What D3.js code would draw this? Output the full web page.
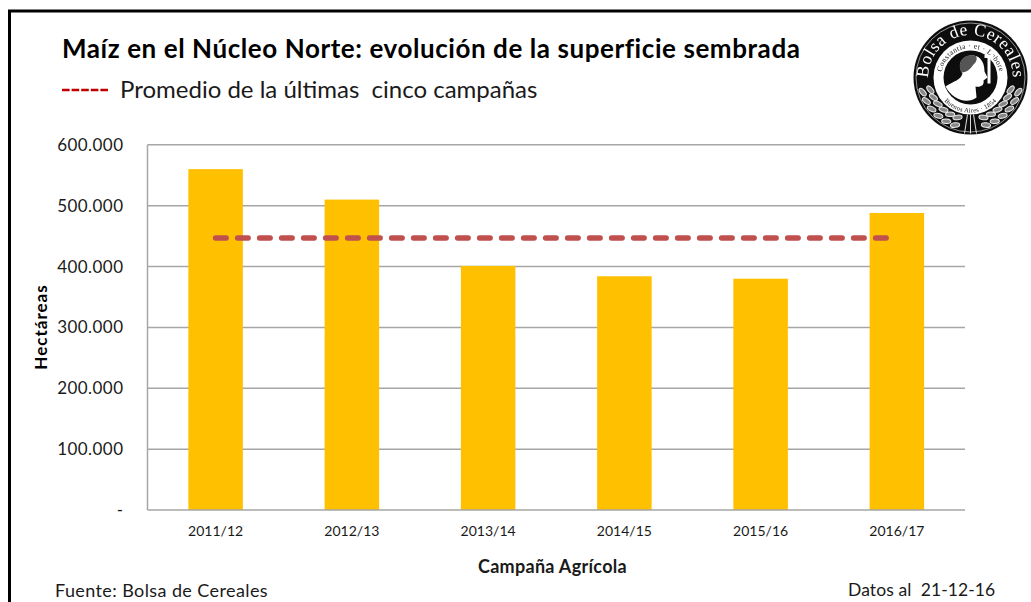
<!DOCTYPE html>
<html><head><meta charset="utf-8">
<script src="https://cdnjs.cloudflare.com/ajax/libs/d3/7.8.5/d3.min.js"></script>
<style>html,body{margin:0;padding:0;background:#fff}svg{display:block}text{font-family:Lato,"Open Sans",sans-serif;white-space:pre}</style>
</head><body><div id="c"></div>
<script>
const categories=["2011/12","2012/13","2013/14","2014/15","2015/16","2016/17"];
const superficie=[560000,510000,401000,384000,380000,488000];
const promedio=[447000,447000,447000,447000,447000,447000];
const yTicks=[0,100000,200000,300000,400000,500000,600000];
const yTickLabels=["-","100.000","200.000","300.000","400.000","500.000","600.000"];
const title="Maíz en el Núcleo Norte: evolución de la superficie sembrada";
const legendLabel="Promedio de la últimas  cinco campañas";

const W=1031,H=602,m={l:147.5,r:965,t:144.8,b:510};
const svg=d3.select("#c").append("svg").attr("width",W).attr("height",H);
svg.append("path").attr("d",`M9.5,602V11H1031`).attr("fill","none").attr("stroke","#000").attr("stroke-width",3);

const x=d3.scaleBand().domain(categories).range([m.l,m.r]).paddingInner(0.6).paddingOuter(0.3);
const y=d3.scaleLinear().domain([0,600000]).range([m.b,m.t]);
const grid="#a6a6a6";

svg.append("g").selectAll("line").data(yTicks.filter(d=>d>0)).join("line")
 .attr("x1",m.l).attr("x2",m.r).attr("y1",d=>y(d)).attr("y2",d=>y(d)).attr("stroke",grid).attr("stroke-width",1.5);

svg.append("g").selectAll("rect").data(superficie).join("rect")
 .attr("x",(d,i)=>x(categories[i])).attr("width",x.bandwidth())
 .attr("y",d=>y(d)).attr("height",d=>m.b-y(d)).attr("fill","#ffc000");

svg.append("line").attr("x1",m.l).attr("x2",m.l).attr("y1",m.t).attr("y2",m.b).attr("stroke",grid).attr("stroke-width",1.5);
svg.append("line").attr("x1",m.l).attr("x2",m.r).attr("y1",m.b).attr("y2",m.b).attr("stroke",grid).attr("stroke-width",1.5);

const line=d3.line().x((d,i)=>x(categories[i])+x.bandwidth()/2).y(d=>y(d));
svg.append("path").attr("d",line(promedio)).attr("fill","none").attr("stroke","#c0504d")
 .attr("stroke-width",5.5).attr("stroke-linecap","round").attr("stroke-dasharray","10.5 11.5");

svg.append("g").selectAll("text").data(yTicks).join("text")
 .attr("x",123.5).attr("y",d=>y(d)+6).attr("text-anchor","end").attr("font-size",17).attr("fill","#1a1a1a")
 .attr("letter-spacing",0.45).text((d,i)=>yTickLabels[i]);

svg.append("g").selectAll("text").data(categories).join("text")
 .attr("x",d=>x(d)+x.bandwidth()/2).attr("y",536).attr("text-anchor","middle").attr("font-size",14).attr("fill","#1a1a1a").text(d=>d);

svg.append("text").attr("x",62).attr("y",58).attr("font-size",26).attr("font-weight",700).attr("letter-spacing",0.57).attr("fill","#000").text(title);
svg.append("line").attr("x1",62).attr("x2",109).attr("y1",90).attr("y2",90).attr("stroke","#c00000").attr("stroke-width",2.5).attr("stroke-dasharray","7.6 2");
svg.append("text").attr("x",120).attr("y",98).attr("font-size",24).attr("fill","#1a1a1a").text(legendLabel);

svg.append("text").attr("transform","translate(47,327) rotate(-90)").attr("text-anchor","middle").attr("font-size",17).attr("font-weight",700).attr("letter-spacing",1).attr("fill","#000").text("Hectáreas");
svg.append("text").attr("x",552.5).attr("y",573).attr("text-anchor","middle").attr("font-size",18).attr("font-weight",700).attr("letter-spacing",0.3).attr("fill","#1a1a1a").text("Campaña Agrícola");
svg.append("text").attr("x",55).attr("y",597).attr("font-size",18).attr("letter-spacing",0.4).attr("fill","#1a1a1a").text("Fuente: Bolsa de Cereales");
svg.append("text").attr("x",848).attr("y",596).attr("font-size",17.5).attr("letter-spacing",0.1).attr("fill","#1a1a1a").text("Datos al  21-12-16");

// Logo
const cx=970.5,cy=77.5;
const defs=svg.append("defs");
defs.append("filter").attr("id","soft").append("feGaussianBlur").attr("stdDeviation",0.4);
const g=svg.append("g").attr("filter","url(#soft)");
defs.append("path").attr("id","arcO").attr("d",`M${cx-40},${cy+14}A42.4,42.4 0 1 1 ${cx+40},${cy+14}`);
defs.append("path").attr("id","arcI").attr("d",`M${cx-29},${cy+5}A29.4,29.4 0 1 1 ${cx+29},${cy+5}`);
defs.append("path").attr("id","arcB").attr("d",`M${cx-35},${cy+5}A35.4,35.4 0 0 0 ${cx+35},${cy+5}`);
g.append("circle").attr("cx",cx).attr("cy",cy).attr("r",57).attr("fill","#111");
g.append("circle").attr("cx",cx).attr("cy",cy).attr("r",54.5).attr("fill","none").attr("stroke","#ccc").attr("stroke-width",.7);
g.append("circle").attr("cx",cx).attr("cy",cy).attr("r",37).attr("fill","#fff");
g.append("circle").attr("cx",cx).attr("cy",cy).attr("r",27).attr("fill","#111");
g.append("text").attr("font-size",17.5).attr("fill","#fff").attr("letter-spacing",.5)
 .append("textPath").attr("href","#arcO").attr("startOffset","50%").attr("text-anchor","middle").style("font-family","Liberation Serif").text("Bolsa de Cereales");
g.append("text").attr("font-size",7.5).attr("fill","#111").attr("letter-spacing",.4).append("textPath").attr("href","#arcI").attr("startOffset","50%").attr("text-anchor","middle").style("font-family","Liberation Serif").text("Constantia · et · Labore");
g.append("text").attr("font-size",6.5).attr("fill","#111").attr("letter-spacing",.3).append("textPath").attr("href","#arcB").attr("startOffset","50%").attr("text-anchor","middle").style("font-family","Liberation Serif").text("Buenos Aires · 1854");
// portrait
g.append("path").attr("d",`M${cx-25},${cy+9}C${cx-16},${cy+3} ${cx-10},${cy+3} ${cx-8},${cy-4}C${cx-14},${cy-14} ${cx-8},${cy-23} ${cx+3},${cy-22}C${cx+12},${cy-21} ${cx+14},${cy-12} ${cx+14},${cy-6}L${cx+17},${cy}L${cx+13},${cy+3}C${cx+14},${cy+8} ${cx+10},${cy+10} ${cx+5},${cy+9}L${cx+6},${cy+20}C${cx-4},${cy+27} ${cx-18},${cy+22} ${cx-25},${cy+9}Z`).attr("fill","#fff");
g.append("path").attr("d",`M${cx-9},${cy-5}C${cx-14},${cy-15} ${cx-7},${cy-24} ${cx+4},${cy-22}C${cx+8},${cy-21} ${cx+6},${cy-15} ${cx+3},${cy-13}C${cx},${cy-9} ${cx-3},${cy-5} ${cx-9},${cy-5}Z`).attr("fill","#555");
g.append("path").attr("d",`M${cx+14},${cy-21}H${cx+23}M${cx+18.5},${cy-21}V${cy+6}`).attr("stroke","#fff").attr("stroke-width",3).attr("fill","none");
// wreath leaves
const leaves=[];
[-1,1].forEach(s=>[42,50].forEach(r=>d3.range(18,84,11).forEach(a=>leaves.push({s,r,a}))));
const lx=d=>cx+d.s*d.r*Math.sin(d.a*Math.PI/180), ly=d=>cy+d.r*Math.cos(d.a*Math.PI/180);
g.append("g").selectAll("ellipse").data(leaves).join("ellipse")
 .attr("cx",lx).attr("cy",ly).attr("rx",4.6).attr("ry",2.3).attr("fill","#888").attr("stroke","#eee").attr("stroke-width",1)
 .attr("transform",d=>`rotate(${-d.s*(d.a-25)} ${lx(d)} ${ly(d)})`);
g.append("path").attr("d",`M${cx-3},${cy+37}L${cx-6},${cy+56}M${cx+3},${cy+37}L${cx+6},${cy+56}M${cx},${cy+37}V${cy+56}`).attr("stroke","#ddd").attr("stroke-width",1);
</script></body></html>
